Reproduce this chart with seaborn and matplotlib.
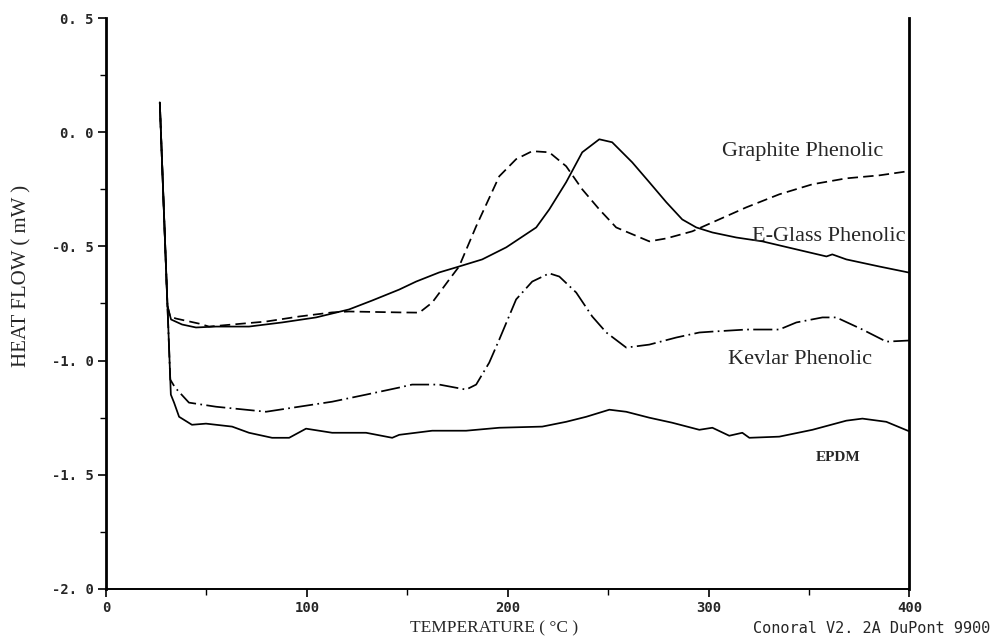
import matplotlib
matplotlib.use("Agg")
import matplotlib.pyplot as plt
import seaborn as sns
import pandas as pd
from matplotlib.ticker import MultipleLocator

# ---- data (temperature in °C, heat flow in mW) ----
graphite_T = [26.8, 30.6, 31.9, 34.9, 46.3, 51.3, 79.7, 96.1, 112.6, 121.0, 146.0, 156.0,
              162.4, 170.9, 175.8, 184.3, 195.8, 204.2, 212.2, 220.7, 229.1, 237.1, 245.6,
              254.0, 270.5, 279.0, 291.9, 301.9, 318.8, 335.2, 351.7, 368.6, 385.0, 400.0]
graphite_HF = [0.13, -0.76, -0.807, -0.816, -0.838, -0.851, -0.829, -0.807, -0.789, -0.785,
               -0.789, -0.79, -0.746, -0.645, -0.588, -0.412, -0.193, -0.118, -0.083, -0.088,
               -0.149, -0.250, -0.338, -0.417, -0.478, -0.465, -0.434, -0.395, -0.329,
               -0.272, -0.228, -0.202, -0.189, -0.17]

eglass_T = [26.8, 30.6, 32.4, 37.9, 44.8, 54.8, 71.2, 87.7, 104.6, 121.0, 132.5, 146.0,
            154.4, 165.9, 174.3, 187.3, 199.3, 214.2, 220.7, 229.1, 237.1, 245.6, 252.0,
            262.0, 270.5, 279.0, 286.9, 293.9, 301.9, 313.8, 326.8, 343.7, 358.7, 361.6,
            368.6, 385.0, 400.0]
eglass_HF = [0.13, -0.76, -0.820, -0.842, -0.855, -0.851, -0.851, -0.833, -0.811, -0.776,
             -0.737, -0.689, -0.654, -0.614, -0.592, -0.557, -0.504, -0.417, -0.338, -0.219,
             -0.088, -0.031, -0.044, -0.132, -0.219, -0.307, -0.382, -0.417, -0.439, -0.461,
             -0.478, -0.513, -0.544, -0.535, -0.557, -0.588, -0.615]

kevlar_T = [26.8, 32.0, 34.4, 41.3, 54.8, 79.7, 96.1, 112.6, 129.5, 146.0, 152.4, 165.9,
            179.3, 184.3, 190.8, 195.8, 204.2, 212.2, 220.7, 225.7, 234.1, 242.1, 249.1,
            259.0, 270.5, 283.9, 295.4, 301.9, 318.8, 335.2, 343.7, 356.7, 363.6, 376.6,
            388.5, 400.0]
kevlar_HF = [0.13, -1.083, -1.118, -1.184, -1.202, -1.224, -1.202, -1.180, -1.149, -1.118,
             -1.105, -1.105, -1.127, -1.105, -1.009, -0.908, -0.732, -0.654, -0.618, -0.632,
             -0.702, -0.807, -0.877, -0.943, -0.930, -0.899, -0.877, -0.873, -0.864, -0.864,
             -0.833, -0.811, -0.811, -0.864, -0.917, -0.912]

epdm_T = [26.8, 32.3, 33.9, 36.4, 42.8, 49.8, 62.8, 71.2, 82.7, 91.2, 99.6, 112.6, 129.5,
          142.5, 146.0, 162.4, 179.3, 195.8, 217.2, 229.1, 239.1, 250.6, 259.0, 270.5,
          281.9, 295.4, 301.9, 310.3, 316.8, 320.3, 335.2, 351.7, 368.6, 376.6, 388.5, 400.0]
epdm_HF = [0.13, -1.149, -1.184, -1.246, -1.281, -1.276, -1.289, -1.316, -1.338, -1.338,
           -1.298, -1.316, -1.316, -1.338, -1.325, -1.307, -1.307, -1.294, -1.289, -1.268,
           -1.246, -1.215, -1.224, -1.250, -1.272, -1.303, -1.294, -1.329, -1.316, -1.338,
           -1.333, -1.303, -1.263, -1.254, -1.268, -1.31]

series_names = ["Graphite Phenolic", "E-Glass Phenolic", "Kevlar Phenolic", "EPDM"]

x_ticks = [0, 100, 200, 300, 400]
y_ticks = [0.5, 0.0, -0.5, -1.0, -1.5, -2.0]
y_tick_labels = ["0. 5", "0. 0", "-0. 5", "-1. 0", "-1. 5", "-2. 0"]

# ---- figure ----
sns.set_theme(style="ticks")
plt.rcParams["font.family"] = ["DejaVu Sans"]

fig = plt.figure(figsize=(9.95, 6.43), dpi=100)
ax = fig.add_axes([0.1065, 0.084, 0.8075, 0.888])

frames = {
    "Graphite Phenolic": (graphite_T, graphite_HF, (0, (6, 3))),
    "E-Glass Phenolic": (eglass_T, eglass_HF, "-"),
    "Kevlar Phenolic": (kevlar_T, kevlar_HF, (0, (11, 2.5, 1, 2.5))),
    "EPDM": (epdm_T, epdm_HF, "-"),
}
for name in series_names:
    T, HF, ls = frames[name]
    df = pd.DataFrame({"T": T, "HF": HF})
    sns.lineplot(data=df, x="T", y="HF", ax=ax, color="black", linewidth=1.25,
                 linestyle=ls, sort=False, estimator=None)

ax.set_xlim(0, 400)
ax.set_ylim(-2.0, 0.5)
ax.set_xticks(x_ticks)
ax.set_xticklabels([str(t) for t in x_ticks])
ax.set_yticks(y_ticks)
ax.set_yticklabels(y_tick_labels)
ax.xaxis.set_minor_locator(MultipleLocator(50))
ax.yaxis.set_minor_locator(MultipleLocator(0.25))

for lab in ax.get_xticklabels() + ax.get_yticklabels():
    lab.set_fontfamily("DejaVu Sans Mono")
    lab.set_fontweight("bold")
    lab.set_fontsize(10)

ax.tick_params(axis="both", which="major", direction="out", length=6, width=1.2,
               color="black", pad=3)
ax.tick_params(axis="both", which="minor", direction="out", length=4, width=1.0,
               color="black")

ax.spines["top"].set_visible(False)
ax.spines["right"].set_visible(True)
ax.spines["left"].set_linewidth(2.0)
ax.spines["right"].set_linewidth(2.0)
ax.spines["bottom"].set_linewidth(1.4)
for s in ax.spines.values():
    s.set_color("black")

ax.set_xlabel("")
ax.set_ylabel("")
fig.text(0.022, 0.571, "HEAT FLOW ( mW )", rotation=90, ha="center", va="center",
         family="Liberation Serif", fontsize=15)
fig.text(0.497, 0.022, "TEMPERATURE ( °C )", ha="center", va="center",
         family="Liberation Serif", fontsize=12.5)
fig.text(0.995, 0.022, "Conoral V2. 2A DuPont 9900", ha="right", va="center",
         family="DejaVu Sans Mono", fontsize=11)

# curve labels
ax.text(346.7, -0.083, "Graphite Phenolic", ha="center", va="center",
        family="Liberation Serif", fontsize=16)
ax.text(360, -0.456, "E-Glass Phenolic", ha="center", va="center",
        family="Liberation Serif", fontsize=16)
ax.text(345.7, -0.996, "Kevlar Phenolic", ha="center", va="center",
        family="Liberation Serif", fontsize=16)
ax.text(364.6, -1.425, "EPDM", ha="center", va="center",
        family="Liberation Serif", fontsize=11, fontweight="bold")

fig.savefig("out.png", dpi=100, facecolor="white")
